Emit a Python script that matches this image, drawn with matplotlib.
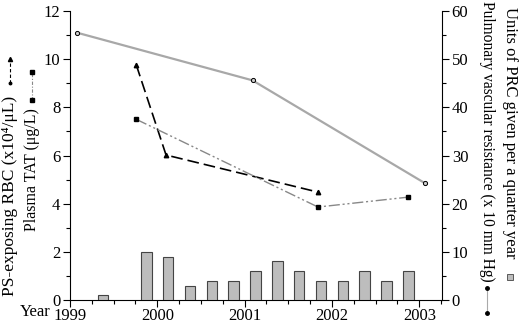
import matplotlib
matplotlib.use("Agg")
import matplotlib.pyplot as plt
from matplotlib.lines import Line2D
from matplotlib.ticker import MultipleLocator

plt.rcParams['font.family'] = ['Liberation Serif', 'DejaVu Serif']
plt.rcParams['font.size'] = 12

# quarterly PRC units (right axis)
prc_x = [1999.375, 1999.875, 2000.125, 2000.375, 2000.625, 2000.875, 2001.125,
         2001.375, 2001.625, 2001.875, 2002.125, 2002.375, 2002.625, 2002.875]
prc_units = [1, 10, 9, 3, 4, 4, 6, 8, 6, 4, 4, 6, 4, 6]

# pulmonary vascular resistance (right axis)
pvr_x = [1999.08, 2001.09, 2003.06]
pvr = [55.5, 45.6, 24.3]

# PS-exposing RBC (left axis)
rbc_x = [1999.76, 2000.10, 2001.84]
rbc = [9.75, 6.02, 4.48]

# plasma TAT (left axis)
tat_x = [1999.76, 2001.84, 2002.87]
tat = [7.5, 3.86, 4.27]

years = [1999, 2000, 2001, 2002, 2003]

W, H = 520, 323
fig = plt.figure(figsize=(5.2, 3.23), dpi=100)
ax = fig.add_axes([70 / W, 1 - 300 / H, 372 / W, 289 / H])
ax2 = ax.twinx()

ax2.bar(prc_x, prc_units, width=0.12, color='#bdbdbd', edgecolor='#444444', linewidth=0.8)
ax2.plot(pvr_x, pvr, color='#a8a8a8', lw=1.6, marker='o', ms=3,
         mfc='#cccccc', mec='black', mew=0.7)

ax.plot(rbc_x, rbc, color='black', lw=1.2, dashes=(7, 3), marker='^', ms=3.2)
ax.plot(tat_x, tat, color='#888888', lw=1.0, dashes=(8, 2, 1.5, 2, 1.5, 2),
        marker='s', ms=3.2, mfc='black', mec='black')

ax.set_xlim(1999, 2003.26)
ax.set_ylim(0, 12)
ax2.set_ylim(0, 60)
ax.set_xticks(years)
ax.set_xticklabels([str(y) for y in years])
ax.xaxis.set_minor_locator(MultipleLocator(0.25))
ax.yaxis.set_major_locator(MultipleLocator(2))
ax.yaxis.set_minor_locator(MultipleLocator(1))
ax2.yaxis.set_major_locator(MultipleLocator(10))
ax2.yaxis.set_minor_locator(MultipleLocator(5))

for a in (ax, ax2):
    a.spines['top'].set_visible(False)
    a.tick_params(which='major', length=5, width=0.8, labelsize=12, pad=2)
    a.tick_params(which='minor', length=3, width=0.8)
ax.tick_params(axis='x', pad=1)
ax.spines['right'].set_visible(False)
ax2.spines['left'].set_visible(False)
ax2.spines['bottom'].set_visible(False)

fig.text(35 / W, 1 - 312 / H, 'Year', ha='center', va='center', fontsize=12)

# left-side labels with legend keys
fig.text(10 / W, 1 - 196 / H, 'PS-exposing RBC (x10\u2074/\u03bcL)', rotation=90,
         ha='center', va='center', fontsize=12.5)
fig.text(32 / W, 1 - 170 / H, 'Plasma TAT (\u03bcg/L)', rotation=90,
         ha='center', va='center', fontsize=11.5)
fig.add_artist(Line2D([10 / W, 10 / W], [1 - 83 / H, 1 - 60 / H], transform=fig.transFigure,
                      color='black', lw=0.8, dashes=(3, 2)))
fig.add_artist(Line2D([10 / W], [1 - 59 / H], transform=fig.transFigure,
                      color='black', marker='^', ms=3))
fig.add_artist(Line2D([10 / W], [1 - 83 / H], transform=fig.transFigure,
                      color='black', marker='o', ms=1.8))
fig.add_artist(Line2D([32 / W, 32 / W], [1 - 100 / H, 1 - 72 / H], transform=fig.transFigure,
                      color='#888888', lw=0.8, dashes=(3, 1.5, 1, 1.5)))
fig.add_artist(Line2D([32 / W, 32 / W], [1 - 100 / H, 1 - 72 / H], transform=fig.transFigure,
                      color='black', marker='s', ms=3, lw=0))

# right-side labels with legend keys
fig.text(510 / W, 1 - 133 / H, 'Units of PRC given per a quarter year', rotation=270,
         ha='center', va='center', fontsize=12)
fig.text(487 / W, 1 - 141 / H, 'Pulmonary vascular resistance (x 10 mm Hg)', rotation=270,
         ha='center', va='center', fontsize=11.2)
fig.add_artist(Line2D([510 / W], [1 - 277 / H], transform=fig.transFigure,
                      color='#bdbdbd', marker='s', ms=5, mec='#444444', mew=0.6))
fig.add_artist(Line2D([487 / W, 487 / W], [1 - 288 / H, 1 - 313 / H], transform=fig.transFigure,
                      color='#aaaaaa', lw=0.8, marker='o', ms=2.5, mfc='black', mec='black'))

fig.savefig('out.png', dpi=100)
